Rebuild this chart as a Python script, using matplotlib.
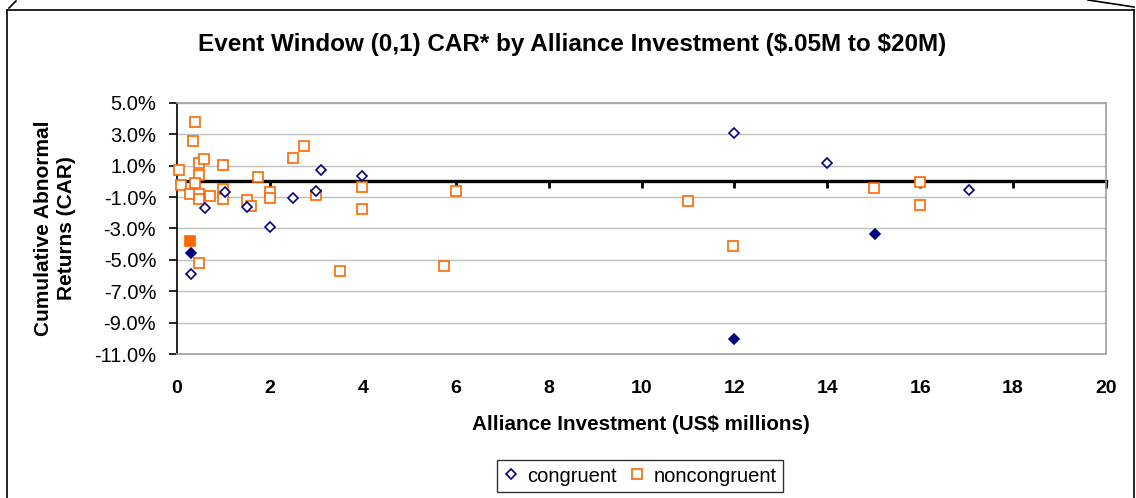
from matplotlib import pyplot as plt
from matplotlib.lines import Line2D
import matplotlib.ticker as tck

plt.rcParams['font.family'] = ['Liberation Sans', 'DejaVu Sans']

NAVY = '#000080'
ORANGE = '#FF6600'

# congruent alliances (open diamonds), investment in US$ millions, CAR in %
cong_x = [0.60, 0.30, 2.0, 2.5, 2.99, 3.11, 3.99, 1.03, 1.50, 12.0, 14.0, 17.04]
cong_y = [-1.69, -5.90, -2.90, -1.04, -0.59, 0.73, 0.34, -0.69, -1.63, 3.08, 1.15, -0.55]
# highlighted congruent (filled diamonds)
cong_hl_x = [0.30, 15.03, 12.0]
cong_hl_y = [-4.56, -3.33, -10.06]

# noncongruent alliances (open squares)
nonc_x = [0.39, 0.34, 0.48, 0.59, 0.98, 0.04, 0.47, 0.39, 0.09, 0.28,
          0.48, 0.48, 0.70, 0.98, 0.98, 1.50, 1.59, 1.75, 2.0, 2.0,
          2.49, 2.73, 2.99, 3.99, 3.99, 3.51, 0.48, 6.0, 5.75, 11.0,
          11.98, 15.01, 15.99, 15.99]
nonc_y = [3.76, 2.57, 1.19, 1.43, 1.03, 0.73, 0.39, -0.12, -0.23, -0.82,
          -0.82, -1.14, -0.93, -0.48, -1.14, -1.18, -1.57, 0.30, -0.66, -1.08,
          1.51, 2.25, -0.89, -0.34, -1.74, -5.71, -5.22, -0.59, -5.39, -1.25,
          -4.10, -0.44, -0.02, -1.50]
# highlighted noncongruent (filled square)
nonc_hl_x = [0.29]
nonc_hl_y = [-3.78]

fig = plt.figure(figsize=(11.36, 4.98), dpi=100)
ax = fig.add_axes([177/1136, 1-354/498, 929/1136, 251/498])

ax.set_xlim(0, 20)
ax.set_ylim(-11, 5)
ax.set_yticks(range(-11, 6, 2))
ax.set_xticks(range(0, 21, 2))
ax.yaxis.set_major_formatter(tck.FuncFormatter(lambda v, p: '%.1f%%' % v))

ax.grid(axis='y', color='#c0c0c0', lw=1)
ax.set_axisbelow(True)
for s in ['top', 'right', 'bottom']:
    ax.spines[s].set_color('#a0a0a0')
    ax.spines[s].set_linewidth(1.2)
ax.spines['left'].set_color('black')
ax.spines['left'].set_linewidth(1.2)

ax.tick_params(axis='y', direction='out', length=6, width=1.2, pad=9, labelsize=14.5)
ax.tick_params(axis='x', length=0, pad=19, labelsize=14)
for lb in ax.get_xticklabels():
    lb.set_fontweight('bold')

# x axis crossing at zero (11 of 16 units up from the bottom)
sec = ax.secondary_xaxis(11/16)
sec.set_alignment('bottom')
sec.set_xticks(range(0, 21, 2))
sec.tick_params(axis='x', direction='out', length=5, width=2,
                labelbottom=False, labeltop=False)
sec.spines['bottom'].set_linewidth(2.4)
sec.spines['bottom'].set_color('black')

ax.plot(nonc_x, nonc_y, ls='none', marker='s', ms=6.8, mfc='white', mec=ORANGE,
        mew=1.2, label='noncongruent', clip_on=False, zorder=3)
ax.plot(nonc_hl_x, nonc_hl_y, ls='none', marker='s', ms=7, mfc=ORANGE, mec=ORANGE,
        mew=1.2, clip_on=False, zorder=3)
ax.plot(cong_x, cong_y, ls='none', marker='D', ms=4.8, mfc='white', mec=NAVY,
        mew=1.2, label='congruent', clip_on=False, zorder=4)
ax.plot(cong_hl_x, cong_hl_y, ls='none', marker='D', ms=5.2, mfc=NAVY, mec=NAVY,
        mew=1.2, clip_on=False, zorder=4)

fig.text(572/1136, 1-45/498, r'Event Window (0,1) CAR* by Alliance Investment (\$.05M to \$20M)',
         ha='center', va='center', fontsize=17.5, fontweight='bold')
fig.text(641/1136, 1-424/498, r'Alliance Investment (US\$ millions)',
         ha='center', va='center', fontsize=14.9, fontweight='bold')
fig.text(55/1136, 1-228/498, 'Cumulative Abnormal\nReturns (CAR)', rotation=90,
         ha='center', va='center', fontsize=15, fontweight='bold', linespacing=1.25)

h, l = ax.get_legend_handles_labels()
leg = fig.legend([h[1], h[0]], [l[1], l[0]], loc='center', bbox_to_anchor=(640/1136, 1-476/498),
                 ncol=2, fontsize=14.5, frameon=True, fancybox=False, handlelength=0.8,
                 handletextpad=0.4, columnspacing=0.6, borderpad=0.3, edgecolor='black')
leg.get_frame().set_linewidth(1)

# outer chart frame
W, H = 1136, 498
def fl(x0, y0, x1, y1):
    fig.add_artist(Line2D([x0/W, x1/W], [1-y0/H, 1-y1/H], color='black', lw=1.2))
fl(7, 10, 1134, 10)
fl(7, 10, 7, 498)
fl(1134, 10, 1134, 498)
fl(9, 8, 16, 1)
fl(1088, 0, 1134, 7)

fig.savefig('out.png', dpi=100)
